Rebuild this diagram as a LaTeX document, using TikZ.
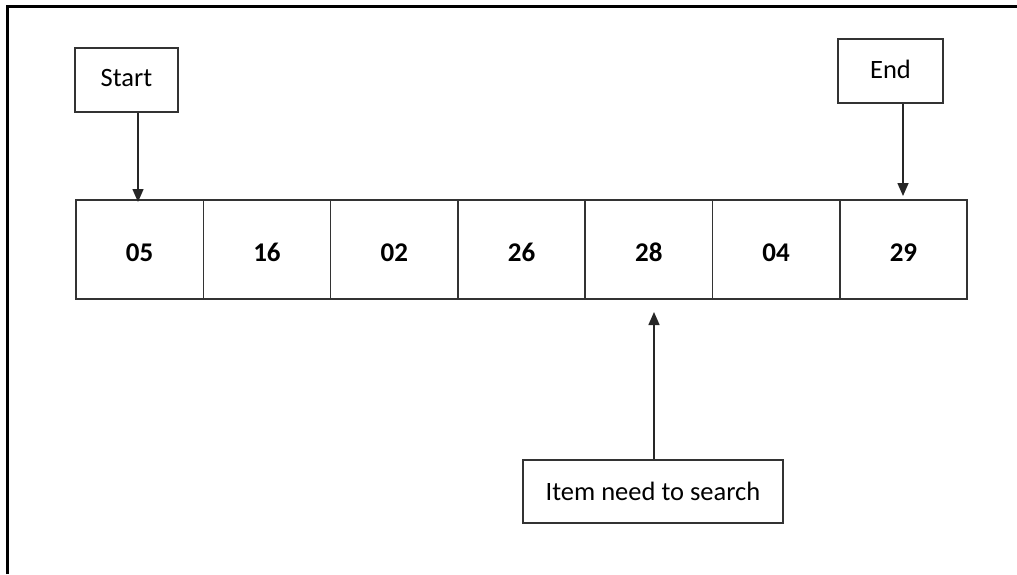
\documentclass[tikz,border=0pt]{standalone}
\usepackage{fontspec}
\setmainfont{Carlito}
\usetikzlibrary{arrows.meta}
\begin{document}
\begin{tikzpicture}[x=1pt,y=-1pt,
  box/.style={draw=black!80,line width=1.5pt,rectangle,inner sep=0pt,font=\fontsize{26.5}{30}\selectfont},
  cell/.style={box,minimum width=127.3pt,minimum height=99pt,text height=18pt,text depth=0pt,font=\fontsize{27}{30}\selectfont\bfseries},
  arr/.style={draw=black!85,line width=1.5pt,-{Triangle[width=11pt,length=13pt]}}]
\useasboundingbox (0,0) rectangle (1017,574);
% page frame: top and left rules only
\draw[line width=3pt] (7.5,574) -- (7.5,6) -- (1017,6);
% array cells
\foreach \v [count=\i] in {05,16,02,26,28,04,29}
  \node[cell] (c\i) at ({76+127.3*(\i-0.5)},249.5) {\raisebox{-3pt}{\v}};
% pointer boxes
\node[box,minimum width=103pt,minimum height=64pt] (start) at (126.5,80) {\raisebox{5pt}{Start}};
\node[box,minimum width=105pt,minimum height=64pt] (end) at (890.5,71) {\raisebox{4pt}{End}};
\node[box,minimum width=260pt,minimum height=63pt] (item) at (653,491.5) {Item need to search};
% arrow end points
\coordinate (sA) at (138,202);
\coordinate (eA) at (903,196);
\coordinate (iA) at (654,312);
\draw[arr] (start.south -| sA) -- (sA);
\draw[arr] (end.south -| eA) -- (eA);
\draw[arr] (item.north -| iA) -- (iA);
\end{tikzpicture}
\end{document}
